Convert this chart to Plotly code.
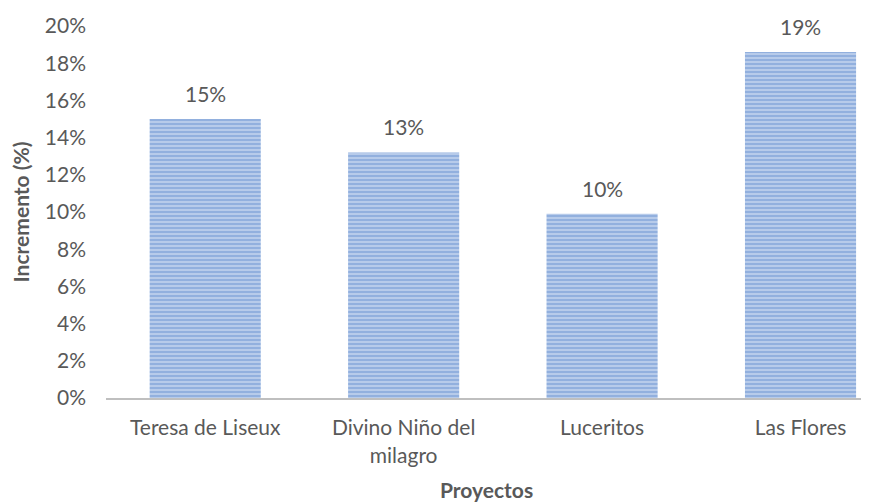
import plotly.graph_objects as go

# datos
proyectos = ["Teresa de Liseux", "Divino Niño del<br>milagro", "Luceritos", "Las Flores"]
incremento = [0.150, 0.132, 0.099, 0.186]
etiquetas = ["15%", "13%", "10%", "19%"]
ticks_y = [0, 0.02, 0.04, 0.06, 0.08, 0.10, 0.12, 0.14, 0.16, 0.18, 0.20]

gris = "#595959"
fuente = "Lato"
tam = 21

fig = go.Figure(
    go.Bar(
        x=proyectos,
        y=incremento,
        width=0.56,
        marker=dict(
            color="#dbe5f5",
            line=dict(width=0),
            pattern=dict(shape="-", fgcolor="#4a7cc8", bgcolor="#dbe5f5",
                         size=4, solidity=0.75),
        ),
        hoverinfo="skip",
    )
)

# etiquetas de datos encima de cada barra
for p, v, t in zip(proyectos, incremento, etiquetas):
    fig.add_annotation(x=p, y=v, text=t, showarrow=False, yanchor="bottom", yshift=11,
                       font=dict(family=fuente, size=tam, color=gris))

# título del eje x como anotación para fijar su posición
fig.add_annotation(x=0.5, y=0, xref="paper", yref="paper", text="<b>Proyectos</b>",
                   showarrow=False, yanchor="top", yshift=-77,
                   font=dict(family=fuente, size=tam, color=gris))

# la página tiene 8px de margen en el body, por eso el tamaño es 861x496
fig.update_layout(
    width=861, height=496,
    margin=dict(l=98, r=3, t=18, b=106),
    plot_bgcolor="white", paper_bgcolor="white",
    showlegend=False,
    font=dict(family=fuente, size=tam, color=gris),
    xaxis=dict(
        range=[-0.5, 3.33],
        automargin=False,
        showline=True, linecolor="#bfbfbf", linewidth=2,
        showgrid=False, ticks="",
        ticklabelstandoff=10,
        tickfont=dict(family=fuente, size=tam, color=gris),
    ),
    yaxis=dict(
        range=[0, 0.20],
        automargin=False,
        tickvals=ticks_y, tickformat=".0%",
        showgrid=False, zeroline=False, showline=False,
        ticklabelstandoff=19,
        tickfont=dict(family=fuente, size=tam, color=gris),
        title=dict(text="<b>Incremento (%)</b>", font=dict(family=fuente, size=tam, color=gris)),
    ),
)

fig.write_html("out.html")
